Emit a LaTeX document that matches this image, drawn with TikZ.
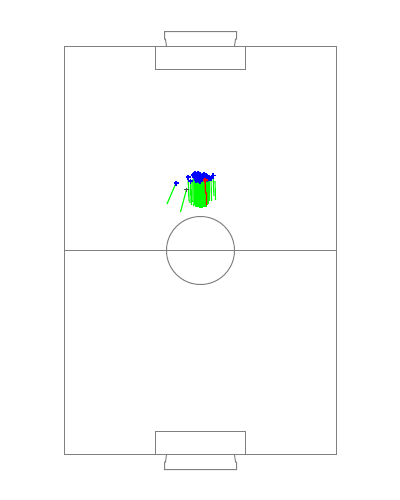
\documentclass[tikz,border=0pt]{standalone}
\tikzset{
  pitch/.style={draw=black!50,line width=0.75pt},
  run/.style={draw={rgb,255:red,0;green,255;blue,0},line width=0.85pt},
  runred/.style={draw=red,line width=0.9pt},
  markblue/.style={draw=blue,line width=0.9pt},
  markred/.style={draw=red,line width=0.9pt},
  markdark/.style={draw=black!70,line width=0.8pt}
}
\begin{document}
\begin{tikzpicture}[x=0.75pt,y=-0.75pt]
\useasboundingbox (0,0) rectangle (400,500);
\fill[white] (0,0) rectangle (400,500);
% pitch
\draw[pitch] (64.5,46.5) rectangle (336.5,454.5);
\draw[pitch] (64.5,250.5) -- (336.5,250.5);
\draw[pitch] (200.5,250.5) circle[radius=34];
\draw[pitch] (155.5,46.5) rectangle (245.5,69.5);
\draw[pitch] (155.5,431.5) rectangle (245.5,454.5);
\draw[pitch] (166.5,46.5) -- (165.5,39) -- (164.5,39) -- (164.5,31.5) -- (236.5,31.5) -- (236.5,39) -- (235.5,39) -- (234.5,46.5);
\draw[pitch] (166.5,454.5) -- (165.5,462) -- (164.5,462) -- (164.5,469.5) -- (236.5,469.5) -- (236.5,462) -- (235.5,462) -- (234.5,454.5);
% runs
\foreach \xa/\ya/\xb/\yb in {
 176/183/167/204, 186.5/189.5/180.5/212, 188/177/189/201,
 190.5/181/190/203, 192/180/191.5/205, 193/179/192.8/202, 194/178/193.8/206,
 195/177/195/205, 196/176/196/207, 197/176/197/205, 198/175/198/207,
 199/175/199/206, 200/175/200/208, 201/176/201/206, 202/175/202/208,
 203/175/203/205, 204/176/204/207, 205/176/205/204, 206/176/206/207,
 207/176/207/205, 208/177/208/204, 209/178/209/201,
 211/179/211.5/201, 213/176/214/196, 215/181/215.5/200}
 {\draw[run] (\xa,\ya) -- (\xb,\yb);}
\draw[runred] (205,180) -- (205.5,193) -- (206.5,193) -- (206.5,205);
% markers
\fill[blue] (192.5,177) -- (194,173) -- (199,171.5) -- (202,174) -- (206,174) -- (210,177) -- (208,182) -- (203,180) -- (199,183) -- (195,181) -- cycle;
\foreach \mx/\my in {176/183,188/177,190.5/181,193/175,195/173,198/173,
 201/176,204/174,207/176,209/178,213/175.5,211/178,196/180,200/181}
 {\draw[markblue] (\mx-2.5,\my) -- (\mx+2.5,\my) (\mx,\my-2.5) -- (\mx,\my+2.5);}
\draw[markdark] (184,189.5) -- (189,189.5) (186.5,187.5) -- (186.5,191.5);
\draw[markred] (202.5,180) -- (207.5,180) (205,177.5) -- (205,182.5);
\end{tikzpicture}
\end{document}
